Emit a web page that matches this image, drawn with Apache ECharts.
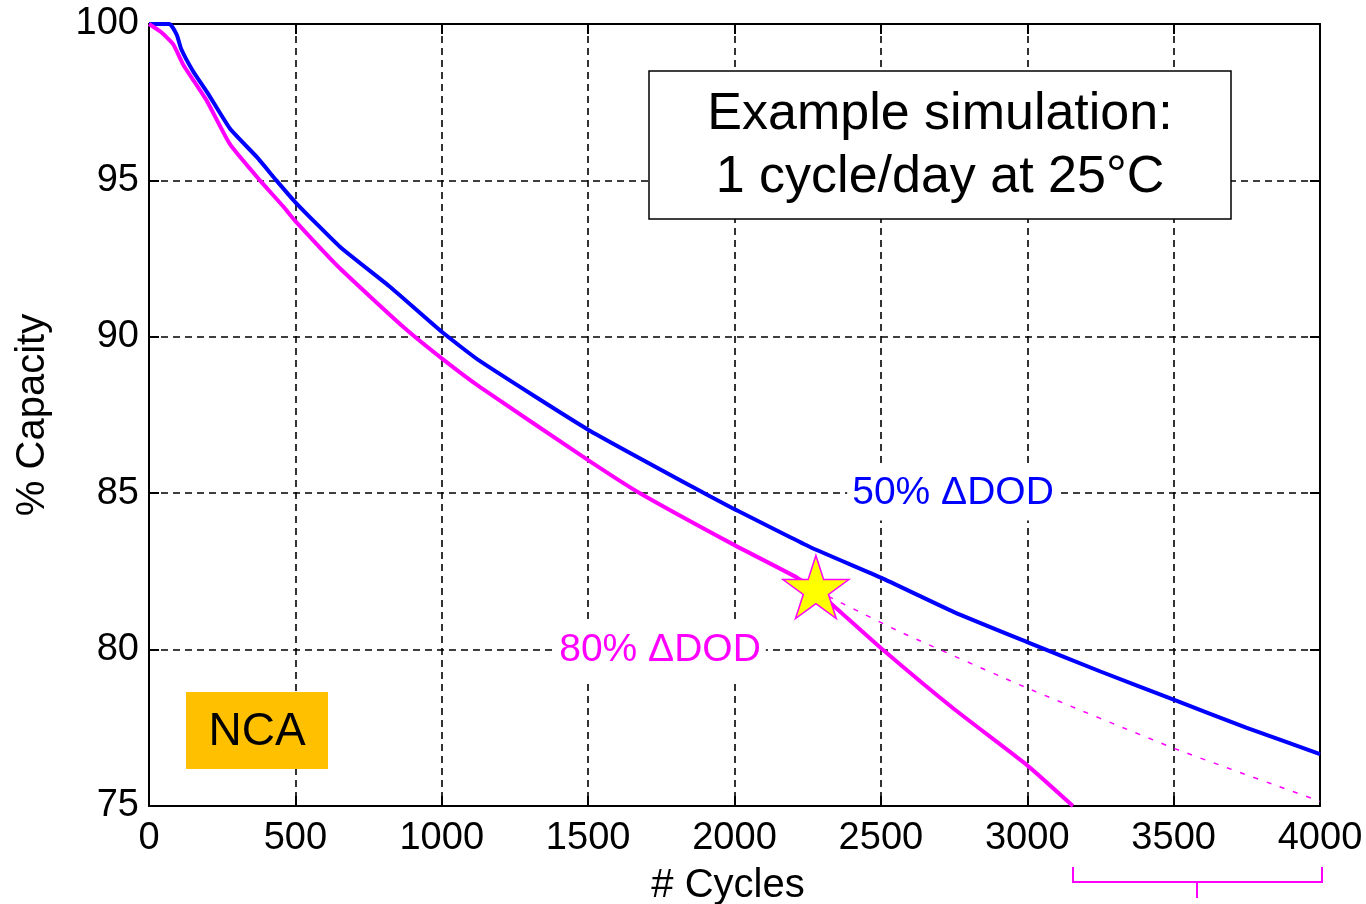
<!DOCTYPE html>
<html>
<head>
<meta charset="utf-8">
<script src="https://cdn.jsdelivr.net/npm/echarts@6/dist/echarts.min.js"></script>
<style>
html,body{margin:0;padding:0;background:#fff;}
#chart{width:1366px;height:904px;}
</style>
</head>
<body>
<div id="chart"></div>
<script>
// ---- data ----
var xTicks = [0, 500, 1000, 1500, 2000, 2500, 3000, 3500, 4000];
var yTicks = [75, 80, 85, 90, 95, 100];

var blueCycles = [0, 70, 95, 110, 150, 200, 277, 368, 435, 500, 652, 823, 1000, 1131, 1500, 1916, 2000, 2258, 2500, 2750, 3000, 3250, 3500, 3750, 4000];
var blueCap    = [100, 100, 99.65, 99.2, 98.5, 97.8, 96.65, 95.75, 95.0, 94.3, 92.88, 91.6, 90.16, 89.22, 87.03, 84.9, 84.49, 83.28, 82.3, 81.2, 80.24, 79.3, 78.4, 77.5, 76.66];

var magentaCycles = [0, 40, 83, 117, 197, 277, 379, 459, 500, 652, 868, 1000, 1131, 1500, 1677, 2000, 2214, 2278, 2500, 2750, 3000, 3156];
var magentaCap    = [100, 99.75, 99.35, 98.7, 97.55, 96.15, 95.0, 94.16, 93.7, 92.19, 90.32, 89.31, 88.39, 86.06, 85.0, 83.34, 82.3, 81.9, 80.05, 78.1, 76.3, 75.0];

var dashCycles = [2278, 2565, 3000, 3500, 4000];
var dashCap    = [81.9, 80.57, 78.77, 76.85, 75.15];

var starCycle = [2278];
var starCap = [82.0];

var blueLabel = '50% \u0394DOD';
var magentaLabel = '80% \u0394DOD';
var boxLines = ['Example simulation:', '1 cycle/day at 25\u00B0C'];
var chemLabel = 'NCA';
var xName = '# Cycles';
var yName = '% Capacity';

function zip(a, b) { return a.map(function (v, i) { return [v, b[i]]; }); }

var FONT = "'Liberation Sans', Arial, sans-serif";
var BLUE = '#0000FF';
var MAG = '#FF00FF';
var starPath = 'path://M50 0 L61.23 34.55 L97.55 34.55 L68.16 55.9 L79.39 90.45 L50 69.1 L20.61 90.45 L31.84 55.9 L2.45 34.55 L38.77 34.55 Z';

var chart = echarts.init(document.getElementById('chart'), null, {renderer: 'canvas'});

var gridLeft = 149, gridTop = 24, gridRight = 46, gridBottom = 98;
function plain(v) { return String(v); }

var option = {
  animation: false,
  backgroundColor: '#fff',
  grid: {left: gridLeft, top: gridTop, right: gridRight, bottom: gridBottom, containLabel: false},
  xAxis: [{
    type: 'value', min: xTicks[0], max: xTicks[xTicks.length - 1], interval: 500,
    position: 'bottom',
    axisLine: {show: true, onZero: false, lineStyle: {color: '#000', width: 2}},
    axisTick: {show: true, inside: true, length: 10, lineStyle: {color: '#000', width: 2}},
    axisLabel: {show: true, margin: 14, color: '#000', fontSize: 38, fontFamily: FONT, formatter: plain},
    splitLine: {show: true, lineStyle: {color: '#000', width: 1.6, type: [7, 5]}}
  }, {
    type: 'value', min: xTicks[0], max: xTicks[xTicks.length - 1], interval: 500,
    position: 'top',
    axisLine: {show: true, onZero: false, lineStyle: {color: '#000', width: 2}},
    axisTick: {show: true, inside: true, length: 10, lineStyle: {color: '#000', width: 2}},
    axisLabel: {show: false},
    splitLine: {show: false}
  }],
  yAxis: [{
    type: 'value', min: yTicks[0], max: yTicks[yTicks.length - 1], interval: 5,
    position: 'left',
    axisLine: {show: true, onZero: false, lineStyle: {color: '#000', width: 2}},
    axisTick: {show: true, inside: true, length: 10, lineStyle: {color: '#000', width: 2}},
    axisLabel: {show: true, margin: 10, color: '#000', fontSize: 38, fontFamily: FONT, formatter: plain},
    splitLine: {show: true, lineStyle: {color: '#000', width: 1.6, type: [7, 5]}}
  }, {
    type: 'value', min: yTicks[0], max: yTicks[yTicks.length - 1], interval: 5,
    position: 'right',
    axisLine: {show: true, onZero: false, lineStyle: {color: '#000', width: 2}},
    axisTick: {show: true, inside: true, length: 10, lineStyle: {color: '#000', width: 2}},
    axisLabel: {show: false},
    splitLine: {show: false}
  }],
  series: [{
    name: 'blue', type: 'line', data: zip(blueCycles, blueCap),
    showSymbol: false, smooth: 0.15, z: 5,
    lineStyle: {color: BLUE, width: 4}
  }, {
    name: 'magentaDash', type: 'line', data: zip(dashCycles, dashCap),
    showSymbol: false, smooth: 0.15, z: 4,
    lineStyle: {color: MAG, width: 1.5, type: [5, 9]}
  }, {
    name: 'magenta', type: 'line', data: zip(magentaCycles, magentaCap),
    showSymbol: false, smooth: 0.15, z: 5,
    lineStyle: {color: MAG, width: 4}
  }, {
    name: 'star', type: 'scatter', data: zip(starCycle, starCap),
    symbol: starPath, symbolSize: [66, 63], z: 10,
    itemStyle: {color: '#FFFF00', borderColor: MAG, borderWidth: 1.5, opacity: 1}
  }],
  graphic: [
    // axis names
    {type: 'text', z: 50, x: 728, y: 886, style: {text: xName, font: '40px ' + FONT, fill: '#000', textAlign: 'center', textVerticalAlign: 'middle'}},
    {type: 'text', z: 50, x: 33, y: 415, rotation: Math.PI / 2, style: {text: yName, font: '40px ' + FONT, fill: '#000', textAlign: 'center', textVerticalAlign: 'middle'}},
    // annotation box
    {type: 'rect', z: 50, shape: {x: 649, y: 71, width: 582, height: 148}, style: {fill: '#fff', stroke: '#000', lineWidth: 1.5}},
    {type: 'text', z: 51, x: 940, y: 115, style: {text: boxLines[0], font: '52px ' + FONT, fill: '#000', textAlign: 'center', textVerticalAlign: 'middle'}},
    {type: 'text', z: 51, x: 940, y: 178, style: {text: boxLines[1], font: '52px ' + FONT, fill: '#000', textAlign: 'center', textVerticalAlign: 'middle'}},
    // series labels
    {type: 'text', z: 50, x: 953, y: 493, style: {text: blueLabel, font: '39px ' + FONT, fill: BLUE, textAlign: 'center', textVerticalAlign: 'middle', backgroundColor: '#fff', padding: [8, 5]}},
    {type: 'text', z: 50, x: 660, y: 650, style: {text: magentaLabel, font: '39px ' + FONT, fill: MAG, textAlign: 'center', textVerticalAlign: 'middle', backgroundColor: '#fff', padding: [10, 5]}},
    // NCA box
    {type: 'rect', z: 50, shape: {x: 186, y: 692, width: 142, height: 77}, style: {fill: '#FFC000'}},
    {type: 'text', z: 51, x: 257, y: 732, style: {text: chemLabel, font: '46px ' + FONT, fill: '#000', textAlign: 'center', textVerticalAlign: 'middle'}},
    // bracket under the axis
    {type: 'polyline', z: 50, shape: {points: [[1073, 867], [1073, 882], [1322, 882], [1322, 867]]}, style: {stroke: MAG, lineWidth: 2, fill: null}},
    {type: 'line', z: 50, shape: {x1: 1197, y1: 882, x2: 1197, y2: 898}, style: {stroke: MAG, lineWidth: 2}}
  ]
};
chart.setOption(option);
</script>
</body>
</html>
